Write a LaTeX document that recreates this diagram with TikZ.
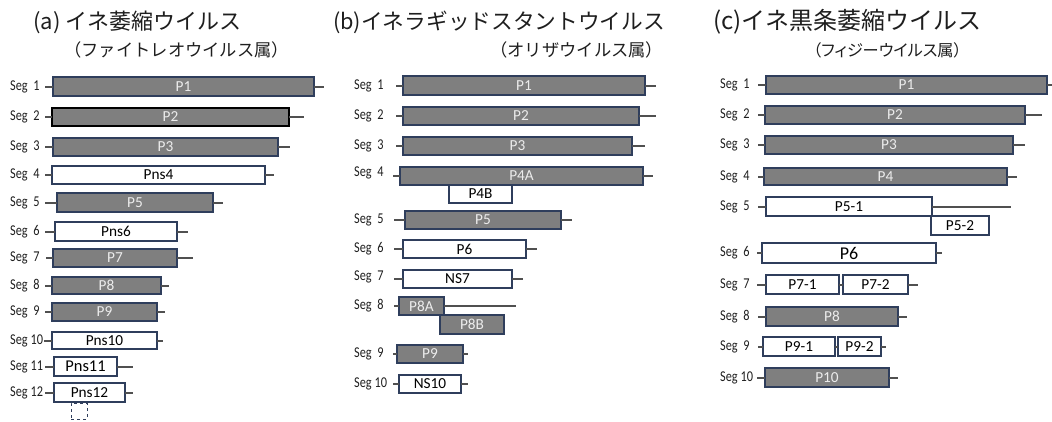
\documentclass[tikz,border=0pt]{standalone}
\usepackage{fontspec}
\setmainfont{Carlito}
\newfontfamily\segfont{Carlito}[FakeStretch=0.82]
\newfontfamily\jp{Noto Sans CJK JP}
\newfontfamily\jpp{Noto Sans CJK JP}[RawFeature=+palt]
\definecolor{boxgray}{RGB}{127,127,127}
\definecolor{navy}{RGB}{47,62,92}
\definecolor{lbl}{RGB}{236,236,236}
\definecolor{conncol}{RGB}{80,80,80}
\definecolor{tcol}{RGB}{30,30,30}
\tikzset{
  basebox/.style={draw=navy,line width=1.3pt,inner sep=0pt,outer sep=0pt,font=\fontsize{15.3}{15.3}\selectfont},
  gbox/.style={basebox,fill=boxgray,text=lbl},
  wbox/.style={basebox,fill=white,text=black},
  seglabel/.style={anchor=west,inner sep=0pt,font=\segfont\fontsize{15}{15}\selectfont,text=tcol},
  conn/.style={line width=2pt,draw=conncol},
  ttl/.style={anchor=west,inner sep=0pt,text=tcol},
  subttl/.style={anchor=west,inner sep=0pt,text=tcol}
}
\newcommand\segbox[7]{%
  \pgfmathsetmacro\bw{#4-#3}\pgfmathsetmacro\bh{#6-#5}%
  \pgfmathsetmacro\bx{(#3+#4)/2}\pgfmathsetmacro\by{(#5+#6)/2}%
  \node[#2,minimum width=\bw pt,minimum height=\bh pt] (#1) at (\bx,\by) {#7};}
\newcommand\lline[2]{\coordinate (#1l) at (#2,\by); \draw[conn] (#1l) -- (#1.west);}
\newcommand\rline[2]{\coordinate (#1r) at (#2,\by); \draw[conn] (#1.east) -- (#1r);}
\begin{document}
\begin{tikzpicture}[x=1pt,y=-1pt]
\useasboundingbox (0,0) rectangle (1052,421);
% titles
\node[ttl,font=\jp\fontsize{22}{23}\selectfont] (ta) at (33,22) {(a) イネ萎縮ウイルス};
\node[subttl,font=\jp\fontsize{17.3}{17}\selectfont] (sa) at (64,50) {（ファイトレオウイルス属）};
\node[ttl,font=\jp\fontsize{21.7}{22}\selectfont] (tb) at (333,22) {(b)イネラギッドスタントウイルス};
\node[subttl,font=\jp\fontsize{17.3}{17}\selectfont] (sb) at (490,50) {（オリザウイルス属）};
\node[ttl,font=\jp\fontsize{24}{24}\selectfont] (tc) at (713,22) {(c)イネ黒条萎縮ウイルス};
\node[subttl,font=\jpp\fontsize{16.2}{17}\selectfont] (sc) at (813,50) {（フィジーウイルス属）};
% ---------------- panel (a)
\segbox{a1}{gbox}{53}{314}{77}{96}{P1}\lline{a1}{45}\rline{a1}{324}
\node[seglabel] (la1) at (10,\by) {Seg~~1};
\segbox{a2}{gbox,draw=black}{52}{289}{108}{126}{P2}\lline{a2}{45}\rline{a2}{304}
\node[seglabel] (la2) at (10,\by) {Seg~~2};
\segbox{a3}{gbox}{53}{278}{138}{156}{P3}\lline{a3}{45}\rline{a3}{290}
\node[seglabel] (la3) at (10,\by) {Seg~~3};
\segbox{a4}{wbox}{52}{265}{166}{184}{Pns4}\lline{a4}{45}\rline{a4}{274}
\node[seglabel] (la4) at (10,\by) {Seg~~4};
\segbox{a5}{gbox}{57}{213}{193}{212}{P5}\lline{a5}{45}\rline{a5}{223}
\node[seglabel] (la5) at (10,\by) {Seg~~5};
\segbox{a6}{wbox}{55}{177}{222}{241}{Pns6}\lline{a6}{45}\rline{a6}{188}
\node[seglabel] (la6) at (10,\by) {Seg~~6};
\segbox{a7}{gbox}{53}{177}{249}{267}{P7}\lline{a7}{46}\rline{a7}{193}
\node[seglabel] (la7) at (10,\by) {Seg~~7};
\segbox{a8}{gbox}{52}{161}{277}{294}{P8}\lline{a8}{45}\rline{a8}{169}
\node[seglabel] (la8) at (10,\by) {Seg~~8};
\segbox{a9}{gbox}{52}{157}{303}{321}{P9}\lline{a9}{45}\rline{a9}{165}
\node[seglabel] (la9) at (10,\by) {Seg~~9};
\segbox{a10}{wbox}{52}{157}{332}{349}{Pns10}\lline{a10}{44}\rline{a10}{163}
\node[seglabel] (la10) at (10,\by) {Seg~10};
\segbox{a11}{wbox,font=\fontsize{16.5}{16.5}\selectfont}{54}{117}{357}{376}{Pns11}\lline{a11}{45}\rline{a11}{133}
\node[seglabel] (la11) at (10,\by) {Seg~11};
\segbox{a12}{wbox}{54}{125}{383}{402}{Pns12}\lline{a12}{45}\rline{a12}{133}
\node[seglabel] (la12) at (10,\by) {Seg~12};
\segbox{a12d}{basebox,dashed,line width=1pt}{71}{87}{403}{419}{}
% ---------------- panel (b)
\segbox{b1}{gbox}{403}{645}{76}{95}{P1}\lline{b1}{396}\rline{b1}{656}
\node[seglabel] (lb1) at (354,\by) {Seg~~1};
\segbox{b2}{gbox}{403}{639}{107}{125}{P2}\lline{b2}{396}\rline{b2}{656}
\node[seglabel] (lb2) at (354,\by) {Seg~~2};
\segbox{b3}{gbox}{403}{632}{137}{155}{P3}\lline{b3}{396}\rline{b3}{645}
\node[seglabel] (lb3) at (354,\by) {Seg~~3};
\segbox{b4}{gbox}{400}{643}{167}{185}{P4A}\lline{b4}{393}\rline{b4}{653}
\node[seglabel] (lb4) at (354,173) {Seg~~4};
\segbox{b4b}{wbox}{449}{512}{185}{203}{P4B}
\segbox{b5}{gbox}{405}{561}{211}{229}{P5}\lline{b5}{394}\rline{b5}{572}
\node[seglabel] (lb5) at (354,\by) {Seg~~5};
\segbox{b6}{wbox}{403}{526}{240}{258}{P6}\lline{b6}{394}\rline{b6}{537}
\node[seglabel] (lb6) at (354,\by) {Seg~~6};
\segbox{b7}{wbox}{403}{512}{270}{288}{NS7}\lline{b7}{394}\rline{b7}{523}
\node[seglabel] (lb7) at (354,277) {Seg~~7};
\segbox{b8a}{gbox}{399}{444}{297}{315}{P8A}\lline{b8a}{394}\rline{b8a}{516}
\node[seglabel] (lb8) at (354,\by) {Seg~~8};
\segbox{b8b}{gbox}{440}{504}{315}{334}{P8B}
\segbox{b9}{gbox}{397}{463}{345}{363}{P9}\lline{b9}{393}\rline{b9}{468}
\node[seglabel] (lb9) at (354,\by) {Seg~~9};
\segbox{b10}{wbox}{399}{461}{375}{393}{NS10}\lline{b10}{393}\rline{b10}{468}
\node[seglabel] (lb10) at (354,\by) {Seg~10};
% ---------------- panel (c)
\segbox{c1}{gbox}{766}{1047}{76}{94}{P1}\lline{c1}{758}\rline{c1}{1052}
\node[seglabel] (lc1) at (720,\by) {Seg~~1};
\segbox{c2}{gbox}{765}{1025}{106}{124}{P2}\lline{c2}{758}\rline{c2}{1042}
\node[seglabel] (lc2) at (720,\by) {Seg~~2};
\segbox{c3}{gbox}{765}{1013}{136}{154}{P3}\lline{c3}{758}\rline{c3}{1025}
\node[seglabel] (lc3) at (720,\by) {Seg~~3};
\segbox{c4}{gbox}{764}{1007}{168}{185}{P4}\lline{c4}{758}\rline{c4}{1017}
\node[seglabel] (lc4) at (720,\by) {Seg~~4};
\segbox{c5a}{wbox}{766}{932}{197}{216}{P5-1}\lline{c5a}{758}\rline{c5a}{1011}
\node[seglabel] (lc5) at (720,\by) {Seg~~5};
\segbox{c5b}{wbox}{931}{989}{216}{235}{P5-2}
\segbox{c6}{wbox,font=\fontsize{18}{18}\selectfont}{762}{936}{243}{263}{P6}\lline{c6}{757}\rline{c6}{942}
\node[seglabel] (lc6) at (720,\by) {Seg~~6};
\segbox{c7a}{wbox}{766}{839}{275}{294}{P7-1}\lline{c7a}{757}
\node[seglabel] (lc7) at (720,\by) {Seg~~7};
\segbox{c7b}{wbox}{843}{908}{275}{294}{P7-2}\rline{c7b}{918}
\draw[conn] (c7a.east) -- (c7b.west);
\segbox{c8}{gbox}{766}{898}{307}{326}{P8}\lline{c8}{758}\rline{c8}{907}
\node[seglabel] (lc8) at (720,\by) {Seg~~8};
\segbox{c9a}{wbox}{763}{835}{337}{356}{P9-1}\lline{c9a}{758}
\node[seglabel] (lc9) at (720,\by) {Seg~~9};
\segbox{c9b}{wbox}{838}{881}{337}{356}{P9-2}\rline{c9b}{886}
\draw[conn] (c9a.east) -- (c9b.west);
\segbox{c10}{gbox}{765}{889}{368}{387}{P10}\lline{c10}{757}\rline{c10}{898}
\node[seglabel] (lc10) at (720,\by) {Seg~10};
\end{tikzpicture}
\end{document}
